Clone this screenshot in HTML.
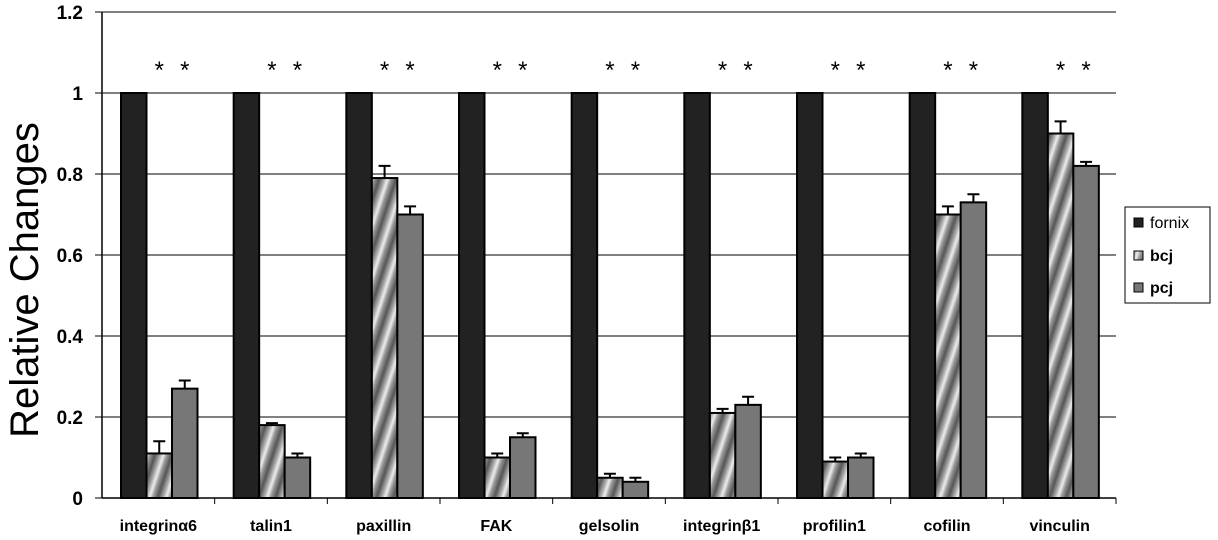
<!DOCTYPE html>
<html><head><meta charset="utf-8"><style>
html,body{margin:0;padding:0;background:#fff;width:1218px;height:540px;overflow:hidden}
svg{display:block;font-family:"Liberation Sans",Arial,sans-serif}
</style></head><body>
<svg id="chart" width="1218" height="540" viewBox="0 0 1218 540">
<defs>
<linearGradient id="stripeGrad" x1="0" y1="0" x2="1" y2="0">
<stop offset="0" stop-color="#555"/><stop offset="0.3" stop-color="#aaa"/><stop offset="0.5" stop-color="#eee"/><stop offset="0.7" stop-color="#999"/><stop offset="1" stop-color="#555"/>
</linearGradient>
<pattern id="bcjPat" patternUnits="userSpaceOnUse" width="16" height="60" patternTransform="rotate(18)">
<rect width="16" height="60" fill="url(#stripeGrad)"/>
</pattern>
</defs>
<g id="grid"></g>
<g id="bars"></g>
<g id="axes"></g>
<text x="38" y="280" font-size="40" text-anchor="middle" transform="rotate(-90 38 280)">Relative Changes</text>
<g>
<rect x="1125" y="207" width="85" height="96" fill="#fff" stroke="#000" stroke-width="1"/>
<g><rect x="1134" y="218" width="9" height="9" fill="#222" stroke="#000"/><text x="1150" y="228" font-size="16">fornix</text></g>
<g><rect x="1134" y="251" width="9" height="9" fill="url(#bcjPat)" stroke="#000"/><text x="1150" y="261" font-size="16" font-weight="bold">bcj</text></g>
<g><rect x="1134" y="283" width="9" height="9" fill="#777" stroke="#000"/><text x="1150" y="293" font-size="16" font-weight="bold">pcj</text></g>
</g>
</svg>
<script>
const categories=["integrinα6","talin1","paxillin","FAK","gelsolin","integrinβ1","profilin1","cofilin","vinculin"];
const fornix=[1,1,1,1,1,1,1,1,1];
const bcj=[0.11,0.18,0.79,0.10,0.05,0.21,0.09,0.70,0.90];
const bcjErr=[0.03,0.005,0.03,0.01,0.01,0.01,0.01,0.02,0.03];
const pcj=[0.27,0.10,0.70,0.15,0.04,0.23,0.10,0.73,0.82];
const pcjErr=[0.02,0.01,0.02,0.01,0.01,0.02,0.01,0.02,0.01];
const yTicks=[0,0.2,0.4,0.6,0.8,1,1.2];
const yTickLabels=["0","0.2","0.4","0.6","0.8","1","1.2"];
const NS="http://www.w3.org/2000/svg";
const X0=102,X1=1116,Y0=498,YS=405;
const cw=(X1-X0)/categories.length, bw=25.5, off=19;
const y=v=>Y0-v*YS;
const cx=i=>X0+i*cw;
function mk(tag,attrs,parent){const e=document.createElementNS(NS,tag);for(const k in attrs)e.setAttribute(k,attrs[k]);parent.appendChild(e);return e;}
const grid=document.getElementById('grid'),bars=document.getElementById('bars'),axes=document.getElementById('axes');
yTicks.forEach((t,i)=>{
  if(t>0){const g=mk('line',{x1:X0,x2:X1,y1:y(t),y2:y(t),stroke:'#000','stroke-width':1},grid);
  
  }
  const tk=mk('line',{x1:X0-7,x2:X0,y1:y(t),y2:y(t),stroke:'#000'},axes);
  
  
  const l=mk('text',{x:83,y:y(t)+7,'font-size':19,'font-weight':'bold','text-anchor':'end'},axes);
  l.textContent=yTickLabels[i];
  
  
});
const ya=mk('line',{x1:X0,x2:X0,y1:y(1.2),y2:Y0,stroke:'#000','stroke-width':1.5},axes);


const xa=mk('line',{x1:X0,x2:X1,y1:Y0,y2:Y0,stroke:'#000','stroke-width':1.5},axes);


categories.forEach((c,i)=>{
  const tk=mk('line',{x1:cx(i+1),x2:cx(i+1),y1:Y0,y2:Y0+6,stroke:'#000'},axes);
  
  
  const series=[[fornix[i],'#222',0],[bcj[i],'url(#bcjPat)',bcjErr[i]],[pcj[i],'#777',pcjErr[i]]];
  series.forEach((s,j)=>{
    const bx=cx(i)+off+j*bw;
    const r=mk('rect',{x:bx,y:y(s[0]),width:bw,height:Y0-y(s[0]),fill:s[1],stroke:'#000','stroke-width':2},bars);
    
    
    if(s[2]>0){const m=bx+bw/2,top=y(s[0]+s[2]);
      const e=mk('path',{d:`M${m},${y(s[0])}V${top}M${m-6},${top}H${m+6}`,stroke:'#000','stroke-width':2,fill:'none'},bars);
      
      }
    if(j>0){const st=mk('text',{x:bx+bw/2,y:78,'font-size':24,'text-anchor':'middle'},bars);
      st.textContent='*';
      
      }
  });
  const l=mk('text',{x:cx(i)+cw/2,y:531,'font-size':16,'font-weight':'bold','text-anchor':'middle'},axes);
  l.textContent=c;
  
  
});
</script>
</body></html>
